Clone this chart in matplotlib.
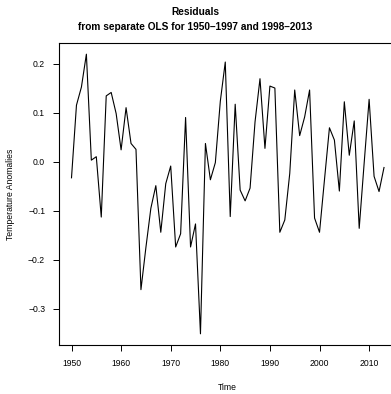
import numpy as np
import matplotlib.pyplot as plt

plt.rcParams['font.family'] = ['Liberation Sans', 'DejaVu Sans']

years = np.arange(1950, 2014)
resid = [-0.033, 0.115, 0.152, 0.219, 0.003, 0.010, -0.113, 0.134, 0.141, 0.098,
         0.024, 0.110, 0.037, 0.025, -0.261, -0.175, -0.095, -0.049, -0.144, -0.045,
         -0.009, -0.174, -0.147, 0.090, -0.174, -0.127, -0.351, 0.037, -0.037, -0.002,
         0.123, 0.203, -0.112, 0.117, -0.058, -0.080, -0.054, 0.081, 0.169, 0.027,
         0.154, 0.150, -0.144, -0.119, -0.024, 0.146, 0.053, 0.091, 0.146, -0.115,
         -0.144, -0.037, 0.069, 0.044, -0.060, 0.122, 0.013, 0.083, -0.136, -0.003,
         0.127, -0.030, -0.061, -0.012]
xticks = [1950, 1960, 1970, 1980, 1990, 2000, 2010]
yticks = [-0.3, -0.2, -0.1, 0.0, 0.1, 0.2]

W, H = 391, 394
fig = plt.figure(figsize=(W / 100, H / 100), dpi=100)
ax = fig.add_axes([59 / W, (H - 345) / H, (396.5 - 59) / W, (345 - 43) / H])

ax.plot(years, resid, color='black', lw=0.8)

# R style 4% padding
xr = years.max() - years.min()
ax.set_xlim(years.min() - 0.04 * xr, years.max() + 0.04 * xr)
yr = max(resid) - min(resid)
ax.set_ylim(min(resid) - 0.04 * yr, max(resid) + 0.04 * yr)

ax.set_xticks(xticks)
ax.set_yticks(yticks)
ax.set_yticklabels(['\u22120.3', '\u22120.2', '\u22120.1', '0.0', '0.1', '0.2'])
ax.tick_params(labelsize=6.2, length=4, width=0.7, pad=6)
for s in ax.spines.values():
    s.set_linewidth(0.8)

ax.set_xlabel('Time', fontsize=6.2, labelpad=11)
ax.set_ylabel('Temperature Anomalies', fontsize=6.2, labelpad=9)

fig.text(0.5, 1 - 12 / H, 'Residuals', ha='center', va='center',
         fontsize=7.3, fontweight='bold')
fig.text(0.5, 1 - 27 / H, 'from separate OLS for 1950\u20131997 and 1998\u20132013',
         ha='center', va='center', fontsize=7.3, fontweight='bold')

fig.savefig('out.png', dpi=100)
